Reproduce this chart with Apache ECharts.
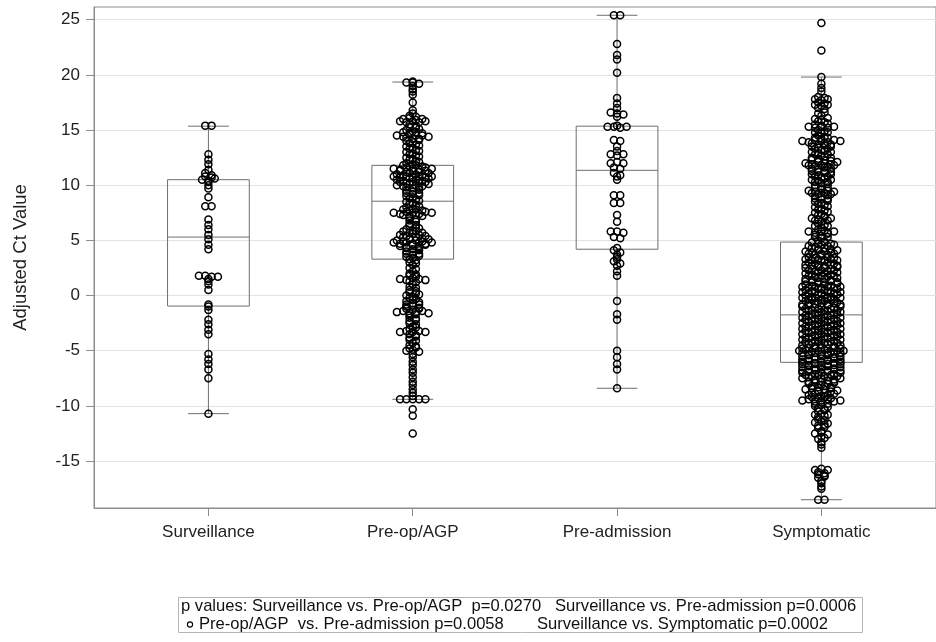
<!DOCTYPE html>
<html>
<head>
<meta charset="utf-8">
<script src="https://cdn.jsdelivr.net/npm/echarts@6.0.0/dist/echarts.min.js"></script>
<style>
  html, body { margin: 0; padding: 0; background: #fff; }
  #chart { width: 936px; height: 642px; }
</style>
</head>
<body>
<div id="chart"></div>
<script>
// ---------------- data ----------------
const categories = ['Surveillance', 'Pre-op/AGP', 'Pre-admission', 'Symptomatic'];
const yTicks = [-15, -10, -5, 0, 5, 10, 15, 20, 25];
const xTicks = [0, 1, 2, 3];

// box statistics (whisker low, Q1, median, Q3, whisker high)
const boxMin    = [-10.7, -9.4, -8.4, -18.5];
const boxQ1     = [-0.95, 3.3, 4.2, -6.05];
const boxMedian = [5.3, 8.55, 11.35, -1.75];
const boxQ3     = [10.5, 11.8, 15.35, 4.85];
const boxMax    = [15.35, 19.35, 25.4, 19.8];

// individual adjusted Ct values
const surveillance = [15.4, 15.4, 12.8, 12.3, 11.9, 11.4, 11.1, 10.8, 10.7, 10.9, 10.5, 10.4, 10.6, 10.3, 10.0, 9.7,
  8.9, 8.1, 8.1, 6.9, 6.4, 6.0, 5.5, 5.1, 4.6, 4.2, 1.8, 1.8, 1.7, 1.7, 1.5, 1.3, 1.0, 0.5,
  -0.8, -1.0, -1.3, -2.2, -2.6, -3.1, -3.5, -5.3, -5.8, -6.2, -6.7, -7.5, -10.7];

const preop = [19.4, 19.3, 19.3, 19.2, 19.0, 18.7, 18.5, 18.2, 17.5,
  16.8, 16.5, 16.3, 16.2, 16.0, 16.1, 15.9, 16.0, 15.8, 15.7, 15.8, 15.7, 15.8, 15.5, 15.4, 15.3, 15.2,
  15.0, 14.9, 15.1, 14.8, 14.7, 14.8, 14.7, 14.5, 14.4, 14.6, 14.5, 14.5, 14.4, 14.3, 14.2, 14.2,
  14.0, 13.9, 14.1, 13.8, 13.7, 13.5, 13.4, 13.6, 13.3, 13.2, 13.0, 12.9, 13.1, 12.8, 12.7,
  12.5, 12.4, 12.6, 12.3, 12.2, 12.0, 11.9, 12.1, 11.8, 11.7, 11.8, 11.7,
  11.5, 11.4, 11.6, 11.5, 11.4, 11.6, 11.5, 11.3, 11.2, 11.3, 11.2, 11.3,
  11.0, 10.9, 11.1, 11.0, 10.9, 11.1, 10.8, 10.7, 10.8, 10.7, 10.8, 10.7, 10.8,
  10.5, 10.4, 10.6, 10.5, 10.4, 10.6, 10.3, 10.2, 10.3, 10.2, 10.3, 10.0, 9.9, 10.1, 10.0, 9.9, 10.1,
  9.8, 9.7, 9.8, 9.5, 9.4, 9.6, 9.3, 9.2, 9.3, 9.0, 8.9, 9.1, 8.8, 8.7, 8.5, 8.4, 8.6, 8.3, 8.2,
  8.0, 7.9, 8.1, 7.8, 7.7, 7.8, 7.7, 7.5, 7.4, 7.6, 7.5, 7.4, 7.6, 7.5, 7.3, 7.2, 7.3, 7.2,
  7.0, 6.9, 6.8, 6.7, 6.5, 6.4, 6.3, 6.2, 6.0, 5.9, 6.1, 5.8, 5.7, 5.8, 5.7, 5.5, 5.4, 5.6, 5.5, 5.4,
  5.3, 5.2, 5.3, 5.2, 5.0, 4.9, 5.1, 5.0, 4.9, 5.1, 4.8, 4.7, 4.8, 4.7, 4.8, 4.7, 4.8,
  4.5, 4.4, 4.6, 4.5, 4.6, 4.3, 4.2, 4.3, 4.0, 3.9, 4.1, 3.8, 3.7, 3.8, 3.5, 3.4, 3.6, 3.3, 3.2,
  3.0, 2.9, 2.8, 2.5, 2.4, 2.2, 2.0, 1.9, 1.8, 1.7, 1.5, 1.4, 1.6, 1.5, 1.4, 1.3, 1.2,
  1.0, 0.8, 0.7, 0.5, 0.4, 0.3, 0.2, 0.0, -0.1, 0.1, -0.2, -0.3, -0.5, -0.4, -0.6,
  -0.8, -0.7, -0.8, -1.0, -0.9, -1.1, -1.2, -1.3, -1.2, -1.5, -1.4, -1.6, -1.5, -1.4, -1.6,
  -1.8, -1.7, -2.0, -2.1, -2.3, -2.2, -2.5, -2.6, -2.8, -3.0, -2.9, -3.3, -3.2, -3.3, -3.2, -3.3,
  -3.5, -3.6, -3.8, -3.7, -4.0, -4.1, -4.3, -4.5, -4.6, -4.8, -4.7, -5.0, -4.9, -5.1,
  -5.3, -5.6, -6.0, -6.3, -6.7, -7.0, -7.4, -7.8, -8.1, -8.5, -8.8, -9.1,
  -9.4, -9.4, -9.4, -9.4, -9.4, -10.3, -10.9, -12.5];

const preadmission = [25.4, 25.4, 22.8, 21.8, 21.4, 20.2, 17.9, 17.4, 17.0, 16.6, 16.5, 16.4, 16.2,
  15.4, 15.3, 15.3, 15.2, 15.3, 14.1, 14.0, 13.5, 13.1, 12.8, 12.7, 12.8, 12.0, 12.1, 12.0, 11.6, 11.5, 11.1,
  10.9, 10.8, 10.5, 9.1, 9.1, 8.4, 8.4, 7.3, 6.7, 5.8, 5.8, 5.7, 5.3, 5.2,
  4.3, 4.1, 3.9, 3.7, 3.5, 3.3, 3.1, 2.9, 2.7, 2.2, 1.8,
  -0.5, -1.7, -2.2, -5.0, -5.6, -6.2, -6.7, -8.4];

const symptomatic = [24.7, 22.2, 19.8, 19.2, 18.8, 18.5, 18.0, 17.9, 17.8, 17.7, 17.8, 17.5, 17.4, 17.3, 17.2, 17.3,
  17.0, 16.9, 16.5, 16.6, 16.3, 16.0, 15.9, 16.1, 15.8, 15.7, 15.5, 15.4, 15.6, 15.3, 15.2, 15.3, 15.2, 15.3,
  15.0, 14.9, 14.8, 14.7, 14.8, 14.5, 14.4, 14.3, 14.2, 14.3, 14.0, 13.9, 14.1, 14.0, 13.9, 14.1, 14.0,
  13.8, 13.7, 13.8, 13.7, 13.5, 13.4, 13.6, 13.5, 13.3, 13.2, 13.3, 13.0, 12.9, 13.1, 13.0, 12.8, 12.7, 12.8,
  12.5, 12.4, 12.6, 12.5, 12.3, 12.2, 12.3, 12.2, 12.0, 11.9, 12.1, 12.0, 11.9, 12.1, 11.8, 11.7, 11.8, 11.7, 11.8,
  11.5, 11.4, 11.6, 11.5, 11.3, 11.2, 11.3, 11.2, 11.0, 10.9, 11.1, 11.0, 10.8, 10.7, 10.8,
  10.5, 10.4, 10.6, 10.5, 10.3, 10.2, 10.3, 10.0, 9.9, 10.1, 9.8, 9.7, 9.8, 9.5, 9.4, 9.6, 9.5, 9.4,
  9.3, 9.2, 9.3, 9.2, 9.0, 8.9, 9.1, 8.8, 8.7, 8.8, 8.5, 8.4, 8.6, 8.3, 8.2, 8.0, 7.9, 8.1, 7.8, 7.7,
  7.5, 7.4, 7.6, 7.3, 7.2, 7.0, 6.9, 7.1, 7.0, 6.8, 6.7, 6.8, 6.5, 6.4, 6.3, 6.2, 6.3, 6.0, 5.9,
  5.8, 5.7, 5.8, 5.7, 5.8, 5.5, 5.4, 5.6, 5.3, 5.2, 5.3, 5.0, 4.9, 4.8, 4.7, 4.8, 4.7,
  4.5, 4.4, 4.6, 4.5, 4.6, 4.3, 4.2, 4.3, 4.2, 4.0, 3.9, 4.1, 4.0, 3.9, 4.1, 3.8, 3.7, 3.8, 3.7, 3.8,
  3.5, 3.4, 3.6, 3.5, 3.4, 3.3, 3.2, 3.3, 3.2, 3.3, 3.2, 3.0, 2.9, 3.1, 3.0, 2.9,
  2.8, 2.7, 2.8, 2.7, 2.8, 2.7, 2.5, 2.4, 2.6, 2.5, 2.4, 2.6, 2.3, 2.2, 2.3, 2.2, 2.3,
  2.0, 1.9, 2.1, 2.0, 1.9, 2.1, 1.8, 1.7, 1.8, 1.7, 1.8, 1.5, 1.4, 1.6, 1.5, 1.4, 1.6,
  1.3, 1.2, 1.3, 1.2, 1.3, 1.2, 1.0, 0.9, 1.1, 1.0, 0.9, 1.1, 0.8, 0.7, 0.8, 0.7, 0.8, 0.7, 0.8,
  0.5, 0.4, 0.6, 0.5, 0.4, 0.6, 0.3, 0.2, 0.3, 0.2, 0.3, 0.2, 0.3, 0.0, -0.1, 0.1, 0.0, -0.1, 0.1,
  -0.2, -0.3, -0.2, -0.3, -0.2, -0.3, -0.2, -0.5, -0.4, -0.6, -0.5, -0.4, -0.6,
  -0.8, -0.7, -0.8, -0.7, -0.8, -0.7, -0.8, -1.0, -0.9, -1.1, -1.0, -0.9, -1.1, -1.0,
  -1.2, -1.3, -1.2, -1.3, -1.2, -1.3, -1.5, -1.4, -1.6, -1.5, -1.4, -1.6, -1.5,
  -1.8, -1.7, -1.8, -1.7, -1.8, -1.7, -2.0, -1.9, -2.1, -2.0, -1.9, -2.1, -2.0,
  -2.2, -2.3, -2.2, -2.3, -2.2, -2.3, -2.5, -2.4, -2.6, -2.5, -2.4, -2.6, -2.5,
  -2.8, -2.7, -2.8, -2.7, -2.8, -2.7, -3.0, -2.9, -3.1, -3.0, -2.9, -3.1, -3.0,
  -3.2, -3.3, -3.2, -3.3, -3.2, -3.3, -3.5, -3.4, -3.6, -3.5, -3.4, -3.6, -3.5,
  -3.8, -3.7, -3.8, -3.7, -3.8, -3.7, -4.0, -3.9, -4.1, -4.0, -3.9, -4.1, -4.0,
  -4.2, -4.3, -4.2, -4.3, -4.2, -4.3, -4.5, -4.4, -4.6, -4.5, -4.4, -4.6, -4.5,
  -4.8, -4.7, -4.8, -4.7, -4.8, -4.7, -4.8, -5.0, -4.9, -5.1, -5.0, -4.9, -5.1, -5.0, -5.0,
  -5.2, -5.3, -5.2, -5.3, -5.2, -5.3, -5.2, -5.5, -5.4, -5.6, -5.5, -5.4, -5.6, -5.5,
  -5.8, -5.7, -5.8, -5.7, -5.8, -5.7, -5.8, -6.0, -5.9, -6.1, -6.0, -5.9, -6.1, -6.0,
  -6.2, -6.3, -6.2, -6.3, -6.2, -6.3, -6.2, -6.5, -6.4, -6.6, -6.5, -6.4, -6.6, -6.5,
  -6.8, -6.7, -6.8, -6.7, -6.8, -6.7, -6.8, -7.0, -6.9, -7.1, -7.0, -6.9, -7.1, -7.0,
  -7.2, -7.3, -7.2, -7.3, -7.2, -7.3, -7.5, -7.4, -7.6, -7.5, -7.4, -7.6, -7.5,
  -7.8, -7.7, -7.8, -7.7, -7.8, -8.0, -7.9, -8.1, -8.0, -7.9, -8.2, -8.3, -8.2, -8.3,
  -8.5, -8.4, -8.6, -8.5, -8.4, -8.6, -8.8, -8.7, -8.8, -8.7, -9.0, -8.9, -9.1, -9.0, -8.9,
  -9.2, -9.3, -9.2, -9.3, -9.5, -9.4, -9.6, -9.5, -9.4, -9.6, -9.5,
  -9.8, -9.7, -9.8, -10.0, -9.9, -10.1, -10.2, -10.3, -10.5, -10.4, -10.8, -10.7, -10.8,
  -11.0, -10.9, -11.2, -11.3, -11.5, -11.4, -11.6, -11.8, -11.7, -12.0, -11.9, -12.3,
  -12.5, -12.4, -12.6, -12.8, -13.0, -12.9, -13.3, -13.5, -13.8,
  -15.8, -15.7, -15.8, -16.0, -16.1, -16.2, -16.3, -16.5, -16.4, -16.8, -17.0, -17.3, -17.5, -18.5, -18.5];

const pValueLine1 = 'p values: Surveillance vs. Pre-op/AGP  p=0.0270   Surveillance vs. Pre-admission p=0.0006';
const pValueLine2a = 'Pre-op/AGP  vs. Pre-admission p=0.0058';
const pValueLine2b = 'Surveillance vs. Symptomatic p=0.0002';

// ---------------- build chart ----------------
const FONT = '"Liberation Sans", Arial, Helvetica, sans-serif';
const FRAME = '#8c8c8c';
const BOX_HALF = 0.2;   // half box width in category units
const CAP_HALF = 0.1;   // half whisker-cap width
const BIN = 0.25;       // values in the same bin are spread sideways
const STEP = 0.031;     // sideways spacing between jittered markers

const groups = [surveillance, preop, preadmission, symptomatic];

function jitter(values, gi) {
  const bins = new Map();
  values.forEach(v => {
    const k = Math.round(v / BIN) + 0;
    if (!bins.has(k)) bins.set(k, []);
    bins.get(k).push(v);
  });
  const out = [];
  bins.forEach(list => {
    const n = list.length;
    list.forEach((v, i) => out.push([gi + (i - (n - 1) / 2) * STEP, v]));
  });
  return out;
}

const pointData = [];
groups.forEach((vals, gi) => jitter(vals, gi).forEach(p => pointData.push(p)));

const boxData = categories.map((c, i) => [i, boxMin[i], boxQ1[i], boxMedian[i], boxQ3[i], boxMax[i]]);

const chart = echarts.init(document.getElementById('chart'), null, { renderer: 'canvas' });

chart.setOption({
  animation: false,
  backgroundColor: '#fff',
  grid: { left: 94, right: -10, top: 7, bottom: 134, show: true, borderColor: FRAME, borderWidth: 1 },
  xAxis: {
    type: 'value', min: -0.56, max: 3.561,
    axisLine: { show: true, onZero: false, lineStyle: { color: FRAME } },
    axisTick: { show: true, length: 8, customValues: xTicks, lineStyle: { color: FRAME } },
    axisLabel: { customValues: xTicks, margin: 16, fontSize: 17, color: '#222', fontFamily: FONT,
      formatter: v => categories[Math.round(v)] },
    splitLine: { show: false }
  },
  yAxis: {
    type: 'value', min: -19.25, max: 26.15, interval: 5,
    axisLine: { show: true, onZero: false, lineStyle: { color: FRAME } },
    axisTick: { show: true, length: 8, customValues: yTicks, lineStyle: { color: FRAME } },
    axisLabel: { customValues: yTicks, margin: 14, fontSize: 17, color: '#222', fontFamily: FONT },
    splitLine: { show: true, lineStyle: { color: '#e2e2e2', width: 1 } },
    name: 'Adjusted Ct Value', nameLocation: 'middle', nameGap: 64,
    nameTextStyle: { fontSize: 18.5, color: '#222', fontFamily: FONT }
  },
  series: [
    {
      type: 'custom',
      data: boxData,
      z: 2,
      renderItem: function (params, api) {
        const x = api.value(0), lo = api.value(1), q1 = api.value(2), md = api.value(3), q3 = api.value(4), hi = api.value(5);
        const tl = api.coord([x - BOX_HALF, q3]);
        const br = api.coord([x + BOX_HALF, q1]);
        const mL = api.coord([x - BOX_HALF, md]), mR = api.coord([x + BOX_HALF, md]);
        const top = api.coord([x, hi]), bot = api.coord([x, lo]);
        const q3c = api.coord([x, q3]), q1c = api.coord([x, q1]);
        const cL = api.coord([x - CAP_HALF, hi])[0], cR = api.coord([x + CAP_HALF, hi])[0];
        const st = { stroke: '#6e6e6e', lineWidth: 1, fill: null };
        return {
          type: 'group',
          children: [
            { type: 'rect', shape: { x: tl[0], y: tl[1], width: br[0] - tl[0], height: br[1] - tl[1] }, style: st },
            { type: 'line', shape: { x1: mL[0], y1: mL[1], x2: mR[0], y2: mR[1] }, style: st },
            { type: 'line', shape: { x1: top[0], y1: top[1], x2: q3c[0], y2: q3c[1] }, style: st },
            { type: 'line', shape: { x1: q1c[0], y1: q1c[1], x2: bot[0], y2: bot[1] }, style: st },
            { type: 'line', shape: { x1: cL, y1: top[1], x2: cR, y2: top[1] }, style: st },
            { type: 'line', shape: { x1: cL, y1: bot[1], x2: cR, y2: bot[1] }, style: st }
          ]
        };
      }
    },
    {
      type: 'scatter',
      data: pointData,
      z: 3,
      symbol: 'circle',
      symbolSize: 7,
      itemStyle: { color: 'rgba(255,255,255,0)', borderColor: '#000', borderWidth: 1.5, opacity: 1 },
      emphasis: { disabled: true }
    }
  ],
  graphic: [
    { type: 'rect', shape: { x: 178.5, y: 597.5, width: 684, height: 35 },
      style: { fill: null, stroke: '#b5b5b5', lineWidth: 1 } },
    { type: 'text', x: 181, y: 606, style: { text: pValueLine1, font: '16.6px ' + FONT, fill: '#111', textVerticalAlign: 'middle' } },
    { type: 'circle', shape: { cx: 190, cy: 624.5, r: 2.6 }, style: { fill: null, stroke: '#000', lineWidth: 1.1 } },
    { type: 'text', x: 199, y: 624, style: { text: pValueLine2a, font: '16.6px ' + FONT, fill: '#111', textVerticalAlign: 'middle' } },
    { type: 'text', x: 828, y: 624, style: { text: pValueLine2b, font: '16.6px ' + FONT, fill: '#111', textAlign: 'right', textVerticalAlign: 'middle' } }
  ]
});
</script>
</body>
</html>
